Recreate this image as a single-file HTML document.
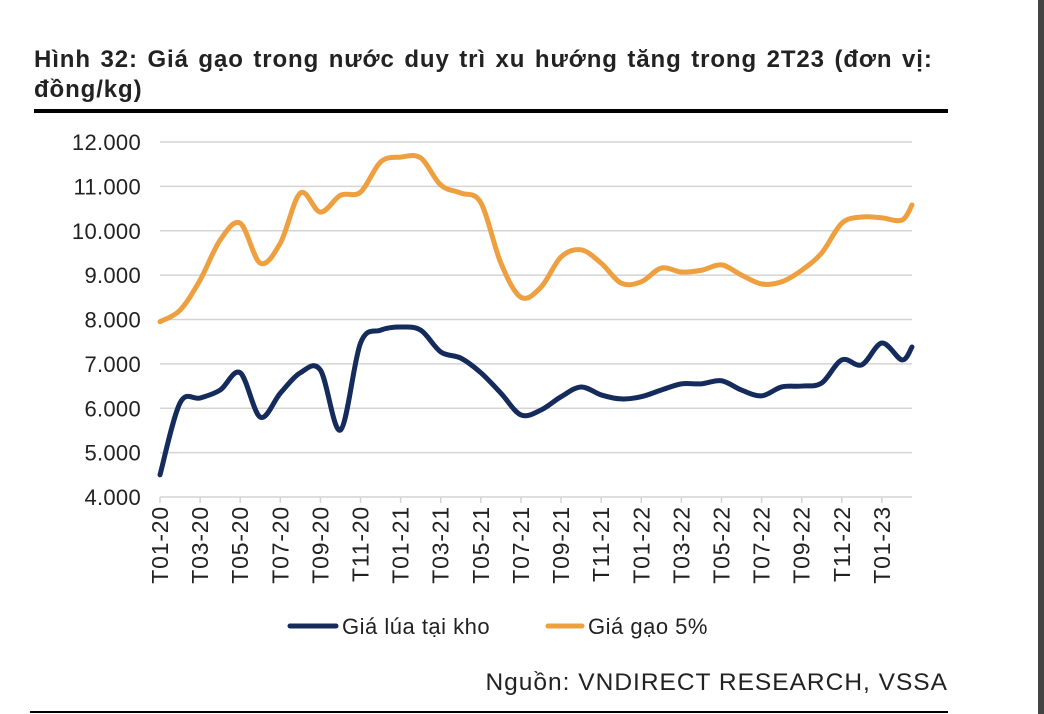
<!DOCTYPE html>
<html><head><meta charset="utf-8"><style>
body{margin:0;width:1044px;height:714px;background:#fff;overflow:hidden;position:relative;font-family:"Liberation Sans",Arial,sans-serif;}
#title{position:absolute;left:34px;top:45px;width:960px;font-weight:bold;font-size:24px;letter-spacing:0.9px;word-spacing:2px;line-height:30px;color:#222;white-space:nowrap;}
#rule{position:absolute;left:34px;top:109px;width:914px;height:4px;background:#000;}
#src{position:absolute;right:96px;top:669px;font-size:24.5px;letter-spacing:1px;color:#222;}
#bottom{position:absolute;left:30px;top:711px;width:918px;height:2px;background:#000;}
#edge{position:absolute;left:1038px;top:0;width:6px;height:714px;background:#444;}
</style></head><body>
<div id="title">Hình 32: Giá gạo trong nước duy trì xu hướng tăng trong 2T23 (đơn vị:<br>đồng/kg)</div>
<div id="rule"></div>
<svg id="chart" width="1044" height="714" style="position:absolute;left:0;top:0"></svg>
<div id="src">Nguồn: VNDIRECT RESEARCH, VSSA</div>
<div id="bottom"></div>
<div id="edge"></div>
<script>
const months=[0,1,2,3,4,5,6,7,8,9,10,11,12,13,14,15,16,17,18,19,20,21,22,23,24,25,26,27,28,29,30,31,32,33,34,35,36,37,37.5];
const tickLabels=["T01-20","T03-20","T05-20","T07-20","T09-20","T11-20","T01-21","T03-21","T05-21","T07-21","T09-21","T11-21","T01-22","T03-22","T05-22","T07-22","T09-22","T11-22","T01-23"];
const yTicks=[4000,5000,6000,7000,8000,9000,10000,11000,12000];
const yTickLabels=["4.000","5.000","6.000","7.000","8.000","9.000","10.000","11.000","12.000"];
const paddy=[4500,6120,6230,6410,6800,5800,6340,6800,6860,5510,7470,7760,7830,7760,7270,7130,6800,6340,5850,5960,6260,6480,6300,6210,6260,6410,6550,6550,6620,6410,6280,6480,6500,6570,7090,6980,7470,7090,7380];
const rice=[7950,8210,8890,9790,10170,9270,9720,10850,10420,10800,10870,11550,11660,11640,11030,10850,10630,9270,8500,8730,9410,9570,9270,8820,8850,9160,9070,9110,9230,9000,8800,8850,9110,9500,10170,10310,10290,10240,10580];
const seriesNames=["Giá lúa tại kho","Giá gạo 5%"];
const colors=["#142b5c","#eea040"];
const svg=document.getElementById('chart');
const NS="http://www.w3.org/2000/svg";
const X0=160,X1=912,DMAX=37.5,Y0=497,Y1=142;
const FONT='Liberation Sans, Arial, sans-serif';
const x=m=>X0+(m/DMAX)*(X1-X0);
const y=v=>Y0-(v-4000)/8000*(Y0-Y1);
function mk(t,a){const e=document.createElementNS(NS,t);for(const k in a)e.setAttribute(k,a[k]);svg.appendChild(e);return e;}
yTicks.forEach((v,i)=>{
 const g=mk('line',{x1:X0,x2:X1,y1:y(v),y2:y(v),stroke:'#d4d4d4','stroke-width':1.5});
 
 
 const t=mk('text',{x:141,y:y(v)+8,'text-anchor':'end','font-size':22,'letter-spacing':0.3,fill:'#222','font-family':FONT});
 t.textContent=yTickLabels[i];
 
 
});
tickLabels.forEach((l,i)=>{
 const m=i*2;
 const tk=mk('line',{x1:x(m),x2:x(m),y1:Y0,y2:Y0+6,stroke:'#d4d4d4','stroke-width':1.5});
 
 
 const t=mk('text',{x:0,y:0,'text-anchor':'end','font-size':23,'letter-spacing':0.8,fill:'#222','font-family':FONT,transform:`translate(${x(m)+8},${Y0+9}) rotate(-90)`});
 t.textContent=l;
 
 
});
function path(vals){
 const p=vals.map((v,i)=>[x(months[i]),y(v)]);
 let d=`M${p[0][0]},${p[0][1]}`;
 for(let i=0;i<p.length-1;i++){
  const p0=p[Math.max(0,i-1)],p1=p[i],p2=p[i+1],p3=p[Math.min(p.length-1,i+2)];
  const k=1/6;
  d+=` C${p1[0]+(p2[0]-p0[0])*k},${p1[1]+(p2[1]-p0[1])*k} ${p2[0]-(p3[0]-p1[0])*k},${p2[1]-(p3[1]-p1[1])*k} ${p2[0]},${p2[1]}`;
 }
 return d;
}
[paddy,rice].forEach((s,i)=>{
 const l=mk('path',{d:path(s),fill:'none',stroke:colors[i],'stroke-width':5,'stroke-linejoin':'round','stroke-linecap':'round'});
 
 
});
const legX=[290,548];
const legW=[46,34];
seriesNames.forEach((n,i)=>{
 const l=mk('line',{x1:legX[i],x2:legX[i]+legW[i],y1:626,y2:626,stroke:colors[i],'stroke-width':5,'stroke-linecap':'round'});
 
 
 const t=mk('text',{x:legX[i]+legW[i]+6,y:634,'font-size':22,'letter-spacing':0.5,fill:'#222','font-family':FONT});
 t.textContent=n;
 
 
});
</script>
</body></html>
